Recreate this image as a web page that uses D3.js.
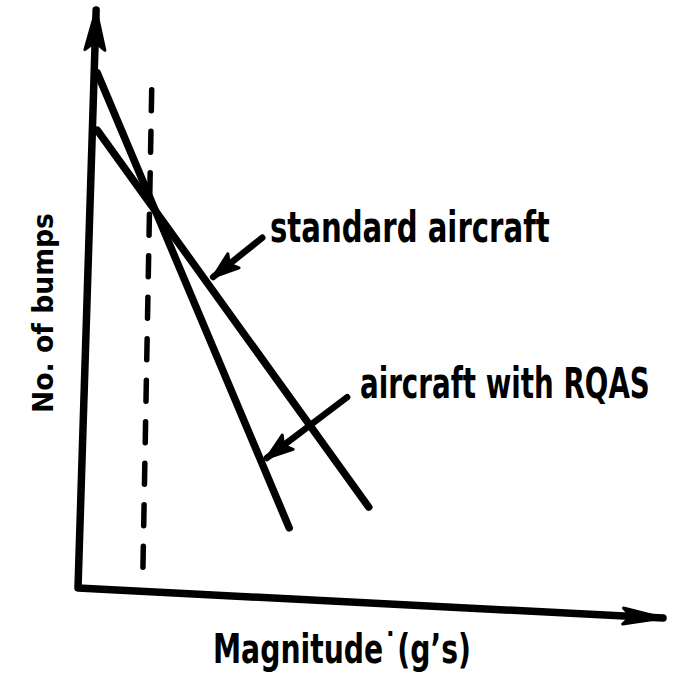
<!DOCTYPE html>
<html>
<head>
<meta charset="utf-8">
<script src="https://cdn.jsdelivr.net/npm/d3@7"></script>
<style>
  html, body { margin: 0; padding: 0; background: #fff; }
  text { font-family: "DejaVu Sans", sans-serif; font-weight: bold; fill: #000; }
</style>
</head>
<body>
<div id="chart"></div>
<script>
// schematic values, arbitrary units (0..100 on both axes)
const standardAircraft = [{x: 3.3, y: 79.2}, {x: 49.7, y: 14.0}];
const aircraftWithRQAS = [{x: 3.3, y: 89.1}, {x: 36.1, y: 10.4}];
const thresholdLine = [{x: 12.6, y: 86.2}, {x: 11.1, y: 3.6}];
// hand drawn axes lean a little
const xAxisLine = [{x: 0, y: 0}, {x: 100, y: -5.2}];
const yAxisLine = [{x: 0, y: 0}, {x: 3.1, y: 100}];

const labels = {
  x: 'Magnitude\u02D9(g\u2019s)',
  y: 'No. of bumps'
};
const annotations = [
  {text: 'standard aircraft', from: {x: 31.5, y: 60.6}, to: {x: 23.1, y: 53.8}, at: {x: 32.8, y: 59.9}, len: 280},
  {text: 'aircraft with RQAS', from: {x: 46.0, y: 33.0}, to: {x: 32.3, y: 22.5}, at: {x: 48.2, y: 32.9}, len: 290}
];

const width = 681, height = 691;
const x = d3.scaleLinear().domain([0, 100]).range([78, 663]);
const y = d3.scaleLinear().domain([0, 100]).range([588, 10]);

const svg = d3.select('#chart').append('svg')
  .attr('width', width)
  .attr('height', height);

const line = d3.line().x(d => x(d.x)).y(d => y(d.y));

// arrowhead polygon at end point b of segment a->b
function head(a, b, len, half) {
  const ax = x(a.x), ay = y(a.y), bx = x(b.x), by = y(b.y);
  const dx = bx - ax, dy = by - ay, l = Math.hypot(dx, dy);
  const ux = dx / l, uy = dy / l;
  const cx = bx - ux * len, cy = by - uy * len;
  return [[bx, by], [cx - uy * half, cy + ux * half], [cx + ux * len * 0.2, cy + uy * len * 0.2], [cx + uy * half, cy - ux * half]];
}

function drawPath(data, w, dash) {
  const p = svg.append('path')
    .datum(data)
    .attr('d', line)
    .attr('fill', 'none')
    .attr('stroke', '#000')
    .attr('stroke-width', w)
    .attr('stroke-linecap', 'round')
    .attr('stroke-linejoin', 'round');
  if (dash) {
    // stretch the gap so the line ends on a dash
    const L = p.node().getTotalLength();
    const n = Math.round((L - dash) / (dash * 2));
    p.attr('stroke-dasharray', `${dash} ${(L - dash) / n - dash}`);
  }
  return p;
}

function drawHead(a, b, len, half) {
  svg.append('polygon')
    .attr('points', head(a, b, len, half).join(' '))
    .attr('fill', '#000').attr('stroke', '#000')
    .attr('stroke-width', 3).attr('stroke-linejoin', 'round');
}

// narrow text: squeeze it horizontally to the wanted width
function drawText(str, px, py, size, len, rot) {
  const g = svg.append('g').attr('transform', `translate(${px},${py})` + (rot ? ` rotate(${rot})` : ''));
  const t = g.append('text').attr('font-size', size).text(str);
  const w = t.node().getComputedTextLength();
  t.attr('transform', `scale(${len / w},1)`);
}

// axes
drawPath([yAxisLine[1], yAxisLine[0], xAxisLine[1]], 7.5);
drawHead(yAxisLine[0], yAxisLine[1], 40, 10);
drawHead(xAxisLine[0], xAxisLine[1], 40, 8);

// threshold
drawPath(thresholdLine, 5.5, 21);

// series
drawPath(standardAircraft, 7.5);
drawPath(aircraftWithRQAS, 7.5);

// annotations
annotations.forEach(a => {
  drawPath([a.from, a.to], 6.5);
  drawHead(a.from, a.to, 26, 9);
  drawText(a.text, x(a.at.x), y(a.at.y), 42, a.len);
});

// axis titles
drawText(labels.x, 213, 663, 40, 258);
drawText(labels.y, 53, 413, 29, 200, -90);
</script>
</body>
</html>
